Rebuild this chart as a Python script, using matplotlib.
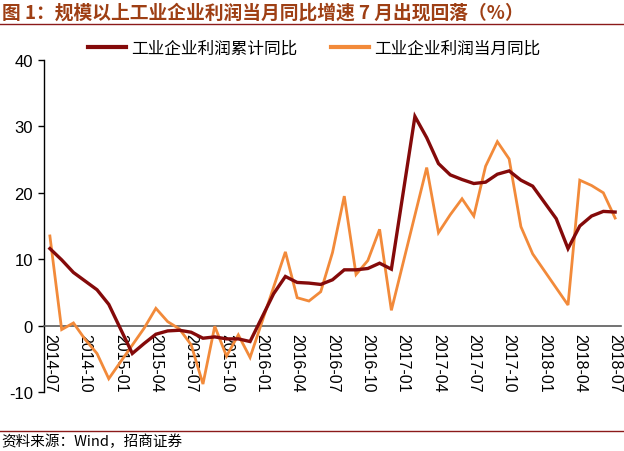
import numpy as np
import pandas as pd
import matplotlib
matplotlib.use("Agg")
import matplotlib.pyplot as plt
from matplotlib.lines import Line2D

plt.rcParams['font.family'] = ['Noto Sans CJK SC', 'DejaVu Sans']

months = [str(p) for p in pd.period_range('2014-07', '2018-07', freq='M')]
nan = np.nan
cumulative = [11.6, 9.9, 8.0, 6.7, 5.4, 3.2,
              nan, -4.2, -2.7, -1.3, -0.8, -0.7, -1.0, -1.9, -1.7, -2.0, -2.0, -2.4,
              nan, 4.8, 7.4, 6.5, 6.4, 6.2, 6.9, 8.4, 8.4, 8.6, 9.4, 8.5,
              nan, 31.5, 28.3, 24.4, 22.7, 22.0, 21.4, 21.6, 22.8, 23.3, 21.9, 21.0,
              nan, 16.1, 11.6, 15.0, 16.5, 17.2, 17.1]
monthly = [13.5, -0.6, 0.4, -2.1, -4.2, -8.0,
           nan, nan, -0.4, 2.6, 0.6, -0.5, -2.9, -8.8, -0.1, -4.6, -1.4, -4.8,
           nan, nan, 11.1, 4.2, 3.7, 5.1, 11.0, 19.5, 7.7, 9.8, 14.5, 2.3,
           nan, nan, 23.8, 14.0, 16.7, 19.1, 16.5, 24.0, 27.7, 25.1, 14.9, 10.8,
           nan, nan, 3.1, 21.9, 21.1, 20.0, 16.2]
series_names = ['工业企业利润累计同比', '工业企业利润当月同比']
title = '图 1：规模以上工业企业利润当月同比增速 7 月出现回落（%）'
source = '资料来源：Wind，招商证券'
yticks = [-10, 0, 10, 20, 30, 40]

W, H = 624, 452
fig = plt.figure(figsize=(W / 100, H / 100), dpi=100)
ax = fig.add_axes([44 / W, 1 - 393 / H, (621 - 44) / W, (393 - 61) / H])

x = np.arange(len(months))
c_dark = '#840A0A'
c_orange = '#F28A3A'
for vals, col, lw, z in [(monthly, c_orange, 2.0, 3), (cumulative, c_dark, 2.4, 4)]:
    v = np.array(vals, dtype=float)
    m = ~np.isnan(v)
    ax.plot(x[m], v[m], color=col, lw=lw, solid_joinstyle='miter', zorder=z)

ax.set_xlim(-0.5, len(months) - 0.5)
ax.set_ylim(-10, 40)
ax.set_yticks(yticks)
ax.set_yticklabels([str(t) for t in yticks], family='Liberation Sans', fontsize=12)
ax.tick_params(axis='y', direction='out', length=4, width=1, pad=4, colors='black')

ax.spines['top'].set_visible(False)
ax.spines['right'].set_visible(False)
ax.spines['bottom'].set_position(('data', 0))
ax.spines['bottom'].set_color('#5a5a5a')
ax.spines['bottom'].set_linewidth(1.2)
ax.spines['left'].set_color('black')
ax.spines['left'].set_linewidth(1.0)

ax.set_xticks(x[::3])
ax.set_xticklabels(months[::3], rotation=270, family='Liberation Sans', fontsize=11.5,
                   va='top', ha='center')
ax.tick_params(axis='x', length=0, pad=5)

handles = [Line2D([], [], color=c_dark, lw=3), Line2D([], [], color=c_orange, lw=3)]
fig.legend(handles, series_names, loc='center', bbox_to_anchor=(314 / W, 1 - 49.5 / H),
           ncol=2, frameon=False, fontsize=12, handlelength=2.3, handletextpad=0.3,
           columnspacing=2.0, borderaxespad=0)

fig.text(2 / W, 1 - 13 / H, title, fontsize=13.5, fontweight='bold', color='#9E3F14',
         va='center', ha='left')
fig.add_artist(Line2D([0, 1], [1 - 25 / H, 1 - 25 / H], transform=fig.transFigure,
                      color='#8B1A1A', lw=1.0))
fig.add_artist(Line2D([0, 1], [1 - 432 / H, 1 - 432 / H], transform=fig.transFigure,
                      color='#8B1A1A', lw=1.0))
fig.text(1 / W, 1 - 442 / H, source, fontsize=10.5, color='black', va='center', ha='left')

fig.savefig('out.png', dpi=100)
